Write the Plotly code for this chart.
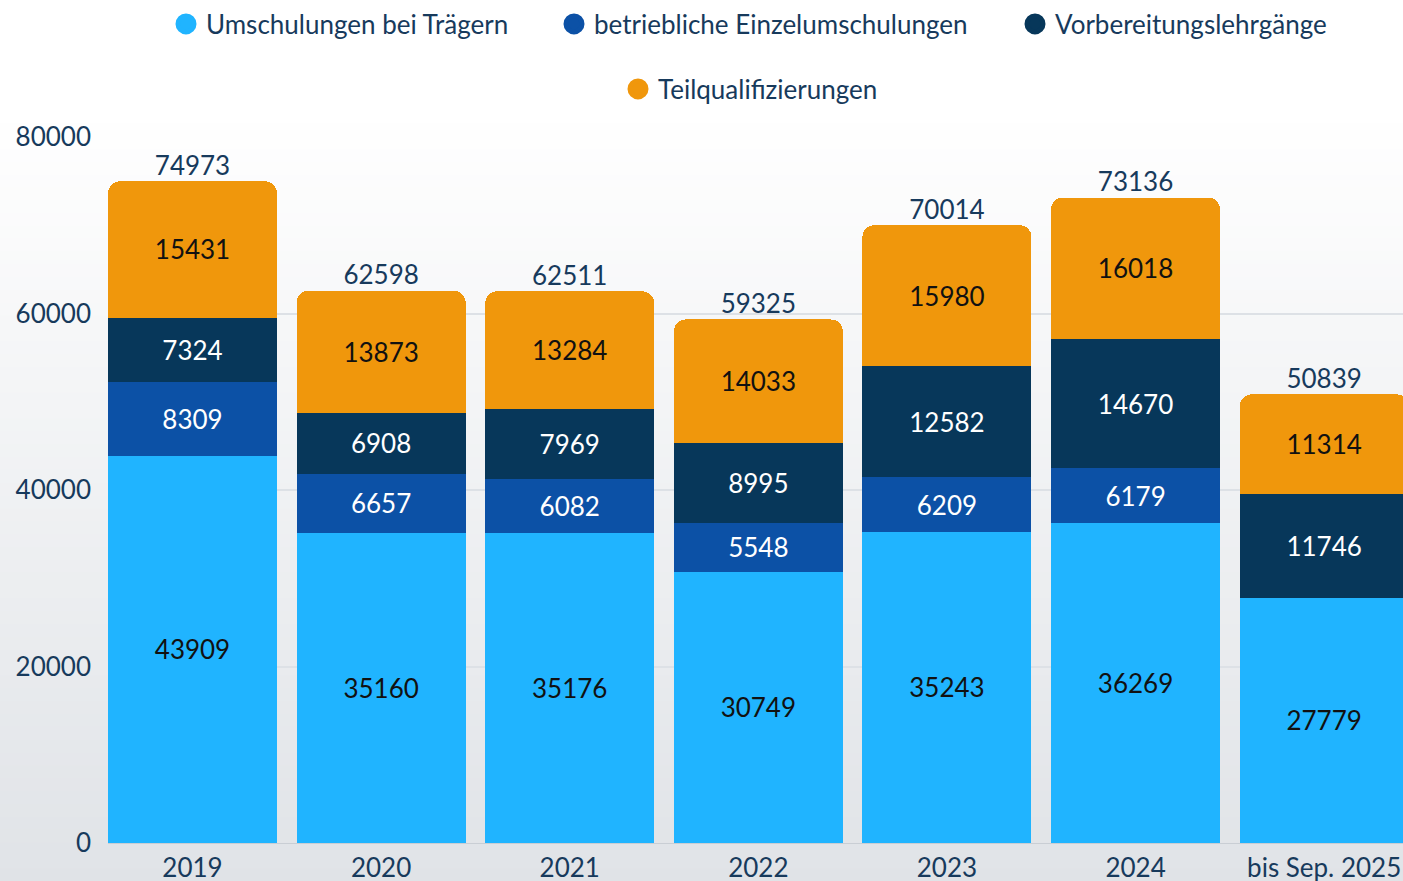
import plotly.graph_objects as go

categories = ["2019", "2020", "2021", "2022", "2023", "2024", "bis Sep. 2025"]
umschulungen_traeger = [43909, 35160, 35176, 30749, 35243, 36269, 27779]
betriebliche_einzel = [8309, 6657, 6082, 5548, 6209, 6179, None]
vorbereitung = [7324, 6908, 7969, 8995, 12582, 14670, 11746]
teilqualifizierung = [15431, 13873, 13284, 14033, 15980, 16018, 11314]
totals = [74973, 62598, 62511, 59325, 70014, 73136, 50839]

series_names = ["Umschulungen bei Trägern", "betriebliche Einzelumschulungen",
                "Vorbereitungslehrgänge", "Teilqualifizierungen"]
series_values = [umschulungen_traeger, betriebliche_einzel, vorbereitung, teilqualifizierung]
colors = ["#20b4ff", "#0c51a6", "#07375a", "#f0970c"]
label_colors = ["#111111", "#ffffff", "#ffffff", "#111111"]

FONT = "Lato, 'Open Sans', sans-serif"
NAVY = "#173a5c"
FS = 26

W, H = 1403, 881
ML, MR, MT, MB = 108, 0, 137, 38
plot_w = W - ML - MR
plot_h = H - MT - MB


def px_x(px):
    return (px - ML) / plot_w


def px_y(py):
    return (H - MB - py) / plot_h


fig = go.Figure()

for name, vals, col, lc in zip(series_names, series_values, colors, label_colors):
    fig.add_trace(go.Bar(
        x=categories, y=vals, name=name,
        marker=dict(color=col, line=dict(width=0)),
        width=0.896,
        text=[("" if v is None else str(v)) for v in vals],
        textposition="inside", insidetextanchor="middle", textangle=0,
        textfont=dict(family=FONT, size=FS, color=lc),
        constraintext="none",
        showlegend=False, hoverinfo="x+y+name",
    ))

# legend entries (circles), one legend per entry to place them like the original
legend_pos = [(208, 24), (596, 24), (1057, 24), (660, 89)]
legend_ids = ["legend", "legend2", "legend3", "legend4"]
for name, col, lid in zip(series_names, colors, legend_ids):
    fig.add_trace(go.Scatter(
        x=[None], y=[None], mode="markers", name=name,
        marker=dict(symbol="circle", size=16, color=col, line=dict(color=col, width=5)),
        showlegend=True, hoverinfo="skip", legend=lid,
    ))

# totals above stacks
fig.add_trace(go.Scatter(
    x=categories, y=totals, mode="text",
    text=[str(t) for t in totals], textposition="top center",
    textfont=dict(family=FONT, size=FS, color=NAVY),
    showlegend=False, hoverinfo="skip", cliponaxis=False,
))

# background gradient (white at top -> light grey at bottom) as paper shapes
shapes = []
n = 60
top_rgb = (255, 255, 255)
bot_rgb = (224, 227, 231)
start_px = 110
for i in range(n):
    y0_px = start_px + (H - start_px) * i / n
    y1_px = min(start_px + (H - start_px) * (i + 1) / n + 1, H)
    t = (i + 0.5) / n
    c = tuple(round(top_rgb[k] + (bot_rgb[k] - top_rgb[k]) * t) for k in range(3))
    shapes.append(dict(type="rect", xref="paper", yref="paper",
                       x0=px_x(0), x1=px_x(W + 2), y0=px_y(y1_px), y1=px_y(y0_px),
                       fillcolor="rgb(%d,%d,%d)" % c, line=dict(width=0), layer="below"))

legend_common = dict(orientation="h", xanchor="left", yanchor="middle",
                     font=dict(family=FONT, size=FS, color=NAVY),
                     bgcolor="rgba(0,0,0,0)", borderwidth=0)
legends = {}
for lid, (tx, ty) in zip(legend_ids, legend_pos):
    legends[lid] = dict(legend_common, x=px_x(tx - 42), y=px_y(ty))

fig.update_layout(
    width=W, height=H,
    margin=dict(l=ML, r=MR, t=MT, b=MB, pad=0),
    barmode="stack", barcornerradius=12,
    paper_bgcolor="#ffffff", plot_bgcolor="rgba(0,0,0,0)",
    font=dict(family=FONT, size=FS, color=NAVY),
    shapes=shapes,
    xaxis=dict(type="category", range=[-0.448, 6.418], showgrid=False, ticks="",
               tickfont=dict(family=FONT, size=FS, color=NAVY), automargin=False,
               ticklabelstandoff=2,
               showline=True, linecolor="#c9ced4", linewidth=1, zeroline=False),
    yaxis=dict(range=[0, 80000], tickvals=[0, 20000, 40000, 60000, 80000],
               ticktext=["0", "20000", "40000", "60000", "80000"],
               showgrid=True, gridcolor="#dde1e6", gridwidth=1.5, zeroline=False,
               tickfont=dict(family=FONT, size=FS, color=NAVY), ticks="",
               ticklabelstandoff=16, automargin=False, showline=False),
    hovermode="closest",
    **legends,
)

fig.write_html("out.html", config={"displayModeBar": False},
               post_script="document.body.style.margin='0';document.body.style.overflow='hidden';")
